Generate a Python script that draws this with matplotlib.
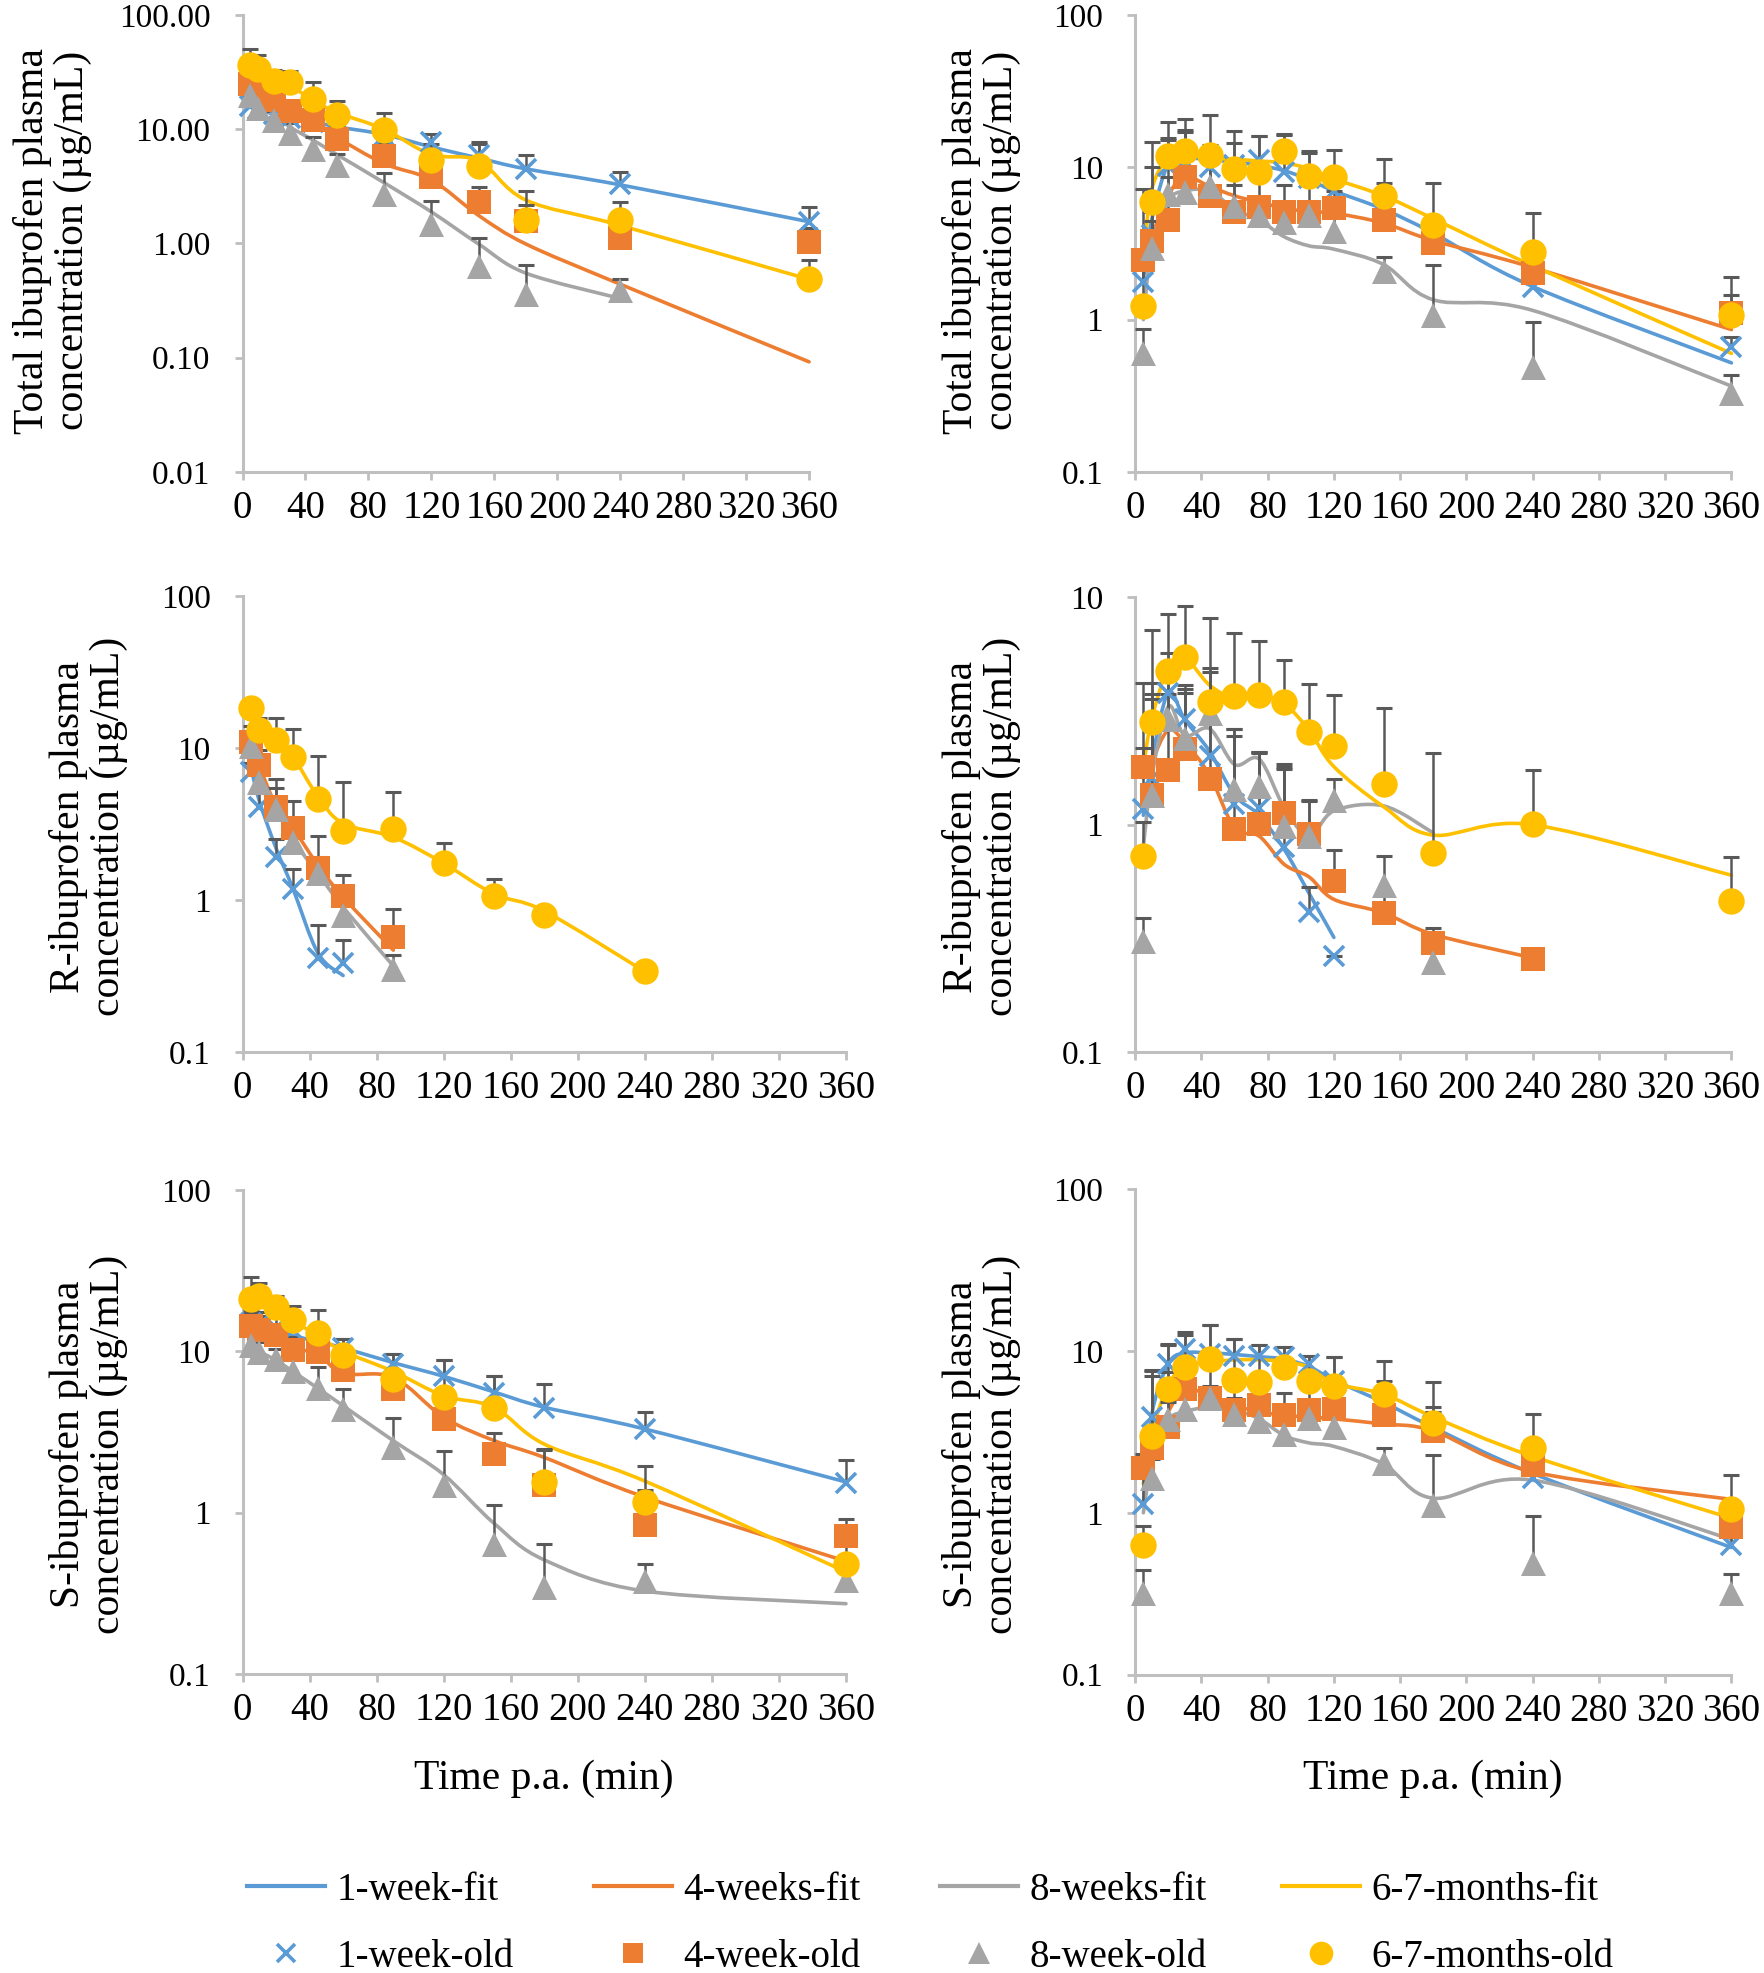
import numpy as np
import matplotlib
matplotlib.use("Agg")
import matplotlib.pyplot as plt
import matplotlib.ticker as mticker
from matplotlib.path import Path
from matplotlib.patches import PathPatch
from matplotlib.lines import Line2D

plt.rcParams["font.family"] = ["Liberation Serif", "DejaVu Serif"]

# ── sampling times (min) ─────────────────────────────────────────────────────
T1 = [5, 10, 20, 30, 45, 60, 90, 120, 150, 180, 240, 360]
T2 = [5, 10, 20, 30, 45, 60, 75, 90, 105, 120, 150, 180, 240, 360]

# ── total ibuprofen, left ────────────────────────────────────────────────────
tl_w1_obs = [16, 15, 13.5, 12.5, 11.5, 10.5, 8.8, 7.8, 6.0, 4.5, 3.3, 1.55]
tl_w1_sd  = [3, 3, 2.5, 2.5, 2, 2, 1.5, 1.3, 1.8, 1.5, 0.9, 0.55]
tl_w1_fit = [16.5, 15, 13.5, 12.5, 11.6, 10.5, 9.0, 7.0, 5.6, 4.5, 3.26, 1.55]
tl_w4_obs = [24.7, 21, 17.9, 14.4, 12, 8.2, 5.8, 3.8, 2.3, 1.58, 1.11, 1.02]
tl_w4_sd  = [10, 6, 4, 3.5, 3, 2.5, 2.0, 1.3, 0.8, 0.6, 0.4, 0.35]
tl_w4_fit = [25, 21, 17, 14.5, 12, 8.5, 5.0, 3.6, 1.76, 0.99, 0.44, 0.092]
tl_w8_obs = [20, 15.4, 12, 9.3, 6.7, 4.85, 2.7, 1.47, 0.64, 0.36, 0.39]
tl_w8_sd  = [5, 3, 2.5, 2, 1.8, 1.2, 1.4, 0.9, 0.47, 0.29, 0.1]
tl_w8_fit = [20, 16, 13.4, 10.5, 8.0, 6.0, 3.4, 1.89, 0.99, 0.55, 0.33]
tl_m6_obs = [36.8, 34, 26.6, 26, 18.5, 13.4, 9.9, 5.4, 4.8, 1.6, 1.6, 0.49]
tl_m6_sd  = [14, 11, 6.4, 6.5, 7.5, 4.2, 3.9, 2.1, 2.7, 1.3, 0.7, 0.22]
tl_m6_fit = [37, 34, 27, 24, 18, 14, 10, 6.0, 5.3, 2.4, 1.44, 0.485]

# ── total ibuprofen, right ───────────────────────────────────────────────────
tr_w1_obs = [1.77, 3.6, 10.2, 11, 10.1, 10.4, 11.2, 9.3, 8.5, 7.0, 5.9, 3.6, 1.63, 0.665]
tr_w1_sd  = [0.6, 1.5, 5, 6, 4, 4, 4.8, 7, 4, 2, 2, 1, 0.3, 0.1]
tr_w1_fit = [1.8, 4.5, 10.5, 11.5, 11.2, 10.8, 10.3, 9.5, 8.3, 7.0, 5.3, 3.7, 1.65, 0.52]
tr_w4_obs = [2.45, 3.3, 4.5, 8.7, 6.5, 5.1, 5.5, 5.1, 5.1, 5.4, 4.5, 3.2, 2.03, 1.1]
tr_w4_sd  = [4.8, 6.7, 11, 8.8, 5.7, 3.5, 3.5, 2.5, 2.5, 1.6, 2, 1.2, 0.8, 0.8]
tr_w4_fit = [2.4, 3.5, 6.5, 8.7, 7.5, 6.5, 5.9, 5.4, 5.1, 5.0, 4.3, 3.3, 2.2, 0.86]
tr_w8_obs = [0.6, 2.97, 6.7, 6.9, 7.5, 5.6, 4.85, 4.35, 4.85, 3.8, 2.08, 1.08, 0.49, 0.33]
tr_w8_sd  = [0.27, 1.5, 2, 2.5, 3, 2, 1.5, 1.0, 1.0, 1.0, 0.5, 1.22, 0.47, 0.1]
tr_w8_fit = [1.0, 3.0, 6.0, 7.0, 7.0, 5.3, 4.5, 3.5, 3.05, 2.9, 2.3, 1.35, 1.15, 0.366]
tr_m6_obs = [1.23, 5.9, 11.9, 12.8, 12.1, 9.8, 9.3, 12.7, 8.8, 8.6, 6.5, 4.2, 2.8, 1.08]
tr_m6_sd  = [1.0, 8.8, 8, 8, 10, 7.4, 6.7, 3.8, 3.9, 4.3, 4.9, 3.7, 2.2, 0.38]
tr_m6_fit = [2.5, 7.1, 11.6, 12.3, 11.6, 11.3, 11.0, 10.7, 9.8, 8.4, 6.5, 4.6, 2.26, 0.6]

# ── R-ibuprofen, left ────────────────────────────────────────────────────────
ml_w1_obs = [7.0, 4.1, 1.92, 1.18, 0.42, 0.386]
ml_w1_sd  = [1.0, 1.0, 0.62, 0.43, 0.27, 0.16]
ml_w1_fit = [7.5, 4.5, 2.2, 1.2, 0.45, 0.32]
ml_w4_obs = [10.9, 7.7, 4.1, 3.0, 1.63, 1.06, 0.575]
ml_w4_sd  = [3, 2, 2.2, 1.5, 1.0, 0.4, 0.3]
ml_w4_fit = [10.5, 7.6, 4.2, 3.0, 1.7, 1.05, 0.47]
ml_w8_obs = [10.3, 6.0, 4.0, 2.4, 1.5, 0.8, 0.356]
ml_w8_sd  = [2, 1.5, 1.5, 1.0, 0.42, 0.3, 0.08]
ml_w8_fit = [10, 6.5, 4.0, 2.5, 1.5, 0.9, 0.37]
ml_m6_obs = [18.3, 13.2, 11.3, 8.8, 4.6, 2.85, 2.93, 1.77, 1.06, 0.805, 0.341]
ml_m6_sd  = [2, 2.5, 4.4, 4.6, 4.3, 3.15, 2.2, 0.6, 0.32, 0.0, 0.0]
ml_m6_fit = [17.5, 13.5, 11, 8.8, 4.8, 3.2, 2.6, 1.75, 1.1, 0.85, 0.34]

# ── R-ibuprofen, right ───────────────────────────────────────────────────────
mr_w1_obs = [1.17, 1.6, 3.8, 2.9, 2.0, 1.23, 1.19, 0.8, 0.415, 0.264]
mr_w1_sd  = [1.0, 2.6, 1.9, 1.2, 2.9, 1.4, 0.9, 1.05, 0.12, 0.0]
mr_w1_fit = [1.1, 1.9, 3.8, 2.9, 2.1, 1.35, 1.1, 0.78, 0.5, 0.32]
mr_w4_obs = [1.79, 1.35, 1.74, 2.14, 1.58, 0.96, 1.01, 1.13, 0.906, 0.566, 0.41, 0.302, 0.257]
mr_w4_sd  = [2.4, 2.2, 2.0, 1.8, 1.2, 1.5, 1.05, 0.63, 0.36, 0.21, 0.1, 0.05, 0.0]
mr_w4_fit = [1.6, 1.9, 2.6, 2.3, 1.65, 0.97, 0.89, 0.67, 0.59, 0.47, 0.41, 0.33, 0.26]
mr_w8_obs = [0.31, 1.35, 2.9, 2.4, 3.1, 1.44, 1.48, 0.99, 0.89, 1.28, 0.546, 0.25]
mr_w8_sd  = [0.08, 2.4, 2.3, 1.4, 1.6, 1.2, 0.6, 0.8, 0.4, 0.3, 0.18, 0.05]
mr_w8_fit = [0.8, 1.6, 3.3, 2.46, 2.64, 1.84, 1.94, 1.19, 0.89, 1.15, 1.21, 0.92]
mr_m6_obs = [0.73, 2.84, 4.73, 5.43, 3.47, 3.67, 3.73, 3.47, 2.55, 2.22, 1.51, 0.748, 1.01, 0.46]
mr_m6_sd  = [0.3, 4.3, 3.7, 3.7, 4.6, 3.3, 2.7, 1.8, 1.6, 1.5, 1.74, 1.32, 0.73, 0.26]
mr_m6_fit = [1.8, 2.9, 4.9, 5.4, 4.1, 3.6, 3.7, 3.4, 2.6, 1.8, 1.2, 0.9, 1.0, 0.6]

# ── S-ibuprofen, left ────────────────────────────────────────────────────────
bl_w1_obs = [15, 14.5, 14, 13.5, 11.5, 10.5, 8.4, 7.0, 5.5, 4.44, 3.29, 1.53]
bl_w1_sd  = [3, 3, 3, 3, 2.5, 1.5, 1.2, 1.8, 1.5, 1.8, 0.9, 0.6]
bl_w1_fit = [15.1, 14.5, 13.5, 12.5, 11.5, 10.5, 8.5, 7.0, 5.6, 4.5, 3.3, 1.55]
bl_w4_obs = [14.3, 13.6, 12.6, 10.2, 9.9, 7.7, 5.8, 3.8, 2.3, 1.48, 0.834, 0.718]
bl_w4_sd  = [3, 3, 2, 2, 2, 1.5, 1.2, 1, 0.8, 1.0, 0.54, 0.2]
bl_w4_fit = [14, 13.5, 12.3, 10.5, 9.6, 7.3, 6.9, 3.9, 2.8, 2.2, 1.25, 0.5]
bl_w8_obs = [10.9, 9.9, 8.9, 7.6, 5.9, 4.4, 2.55, 1.48, 0.636, 0.348, 0.38, 0.385]
bl_w8_sd  = [2, 1.5, 1.5, 1.2, 2.1, 1.4, 1.3, 0.92, 0.48, 0.29, 0.1, 0.05]
bl_w8_fit = [11, 10, 8.8, 7.5, 5.9, 4.6, 2.79, 1.72, 0.86, 0.51, 0.327, 0.273]
bl_m6_obs = [21, 22, 18.7, 15.6, 13, 9.5, 6.7, 5.2, 4.44, 1.55, 1.16, 0.484]
bl_m6_sd  = [8, 4.5, 3.3, 3.4, 5.1, 2.4, 2.9, 3.6, 2.6, 0.88, 0.78, 0.15]
bl_m6_fit = [21, 21.5, 18.5, 15.5, 12.5, 10, 7.5, 5.3, 4.5, 2.66, 1.57, 0.43]

# ── S-ibuprofen, right ───────────────────────────────────────────────────────
br_w1_obs = [1.13, 3.9, 8.3, 10.2, 9.6, 9.3, 9.3, 9.1, 8.3, 6.5, 5.0, 3.5, 1.64, 0.63]
br_w1_sd  = [0.5, 3.7, 2.7, 2.8, 4.9, 2.6, 1.6, 1.4, 1.0, 2.6, 1.5, 1, 0.4, 0.1]
br_w1_fit = [1.1, 4.0, 8.3, 9.7, 9.7, 9.5, 9.2, 8.9, 8.0, 6.6, 4.8, 3.37, 1.75, 0.61]
br_w4_obs = [1.9, 2.5, 3.37, 5.8, 5.1, 4.3, 4.6, 4.0, 4.3, 4.4, 4.0, 3.2, 1.96, 0.82]
br_w4_sd  = [0.4, 4.5, 4.0, 3.5, 3.0, 2.0, 1.5, 1.5, 1.5, 1.5, 1.9, 1.0, 0.8, 0.2]
br_w4_fit = [1.8, 2.6, 4.2, 5.8, 5.3, 4.6, 4.2, 4.0, 3.9, 3.8, 3.53, 3.2, 1.79, 1.21]
br_w8_obs = [0.32, 1.64, 3.8, 4.4, 5.1, 4.08, 3.68, 3.07, 3.84, 3.4, 2.02, 1.11, 0.49, 0.32]
br_w8_sd  = [0.12, 0.5, 1.0, 1.0, 1.0, 1.0, 1.0, 0.8, 0.8, 0.8, 0.5, 1.17, 0.47, 0.1]
br_w8_fit = [1.0, 2.0, 3.7, 4.2, 4.5, 4.3, 3.8, 3.0, 2.7, 2.57, 2.0, 1.23, 1.59, 0.685]
br_m6_obs = [0.63, 2.98, 5.8, 8.0, 8.9, 6.6, 6.4, 8.0, 6.5, 6.1, 5.4, 3.6, 2.5, 1.06]
br_m6_sd  = [0.2, 4.5, 5, 4.5, 5.6, 5.3, 4.5, 2.5, 2.8, 3.0, 3.3, 2.8, 1.6, 0.66]
br_m6_fit = [1.5, 3.1, 6.1, 8.0, 8.5, 8.8, 8.8, 8.6, 7.9, 6.3, 5.4, 3.91, 2.23, 0.925]

FIT_LABELS = ["1-week-fit", "4-weeks-fit", "8-weeks-fit", "6-7-months-fit"]
OBS_LABELS = ["1-week-old", "4-week-old", "8-week-old", "6-7-months-old"]
XTICKS = list(range(0, 361, 40))

Y_LABELS = [
    "Total ibuprofen plasma\nconcentration (µg/mL)",
    "R-ibuprofen plasma\nconcentration (µg/mL)",
    "S-ibuprofen plasma\nconcentration (µg/mL)",
]
X_LABEL = "Time p.a. (min)"

# ── style ────────────────────────────────────────────────────────────────────
COLORS  = ["#5B9BD5", "#ED7D31", "#A5A5A5", "#FFC000"]
MARKERS = ["x", "s", "^", "o"]
MSIZES  = [15, 17, 18, 19]
ERR_COL = "#595959"
AX_COL  = "#BFBFBF"


def smooth_path(t, y):
    """Excel-style smoothed line: Catmull-Rom Beziers in (t, log10 y) space."""
    pts = np.column_stack([np.asarray(t, float), np.log10(np.asarray(y, float))])
    n = len(pts)
    verts, codes = [pts[0]], [Path.MOVETO]
    for i in range(n - 1):
        p0, p1 = pts[max(i - 1, 0)], pts[i]
        p2, p3 = pts[i + 1], pts[min(i + 2, n - 1)]
        verts += [p1 + (p2 - p0) / 6.0, p2 - (p3 - p1) / 6.0, p2]
        codes += [Path.CURVE4] * 3
    verts = np.array(verts)
    verts[:, 1] = 10 ** verts[:, 1]
    return Path(verts, codes)


def draw_panel(ax, times, groups, ylim, yticks, ytlabels):
    for k, (obs, sd, fit) in enumerate(groups):
        t = times[:len(fit)]
        ax.add_patch(PathPatch(smooth_path(t, fit), fill=False, edgecolor=COLORS[k],
                               lw=2.6, zorder=2, clip_on=False, capstyle="round"))
    for k, (obs, sd, fit) in enumerate(groups):
        t = np.array(times[:len(obs)], float)
        o = np.array(obs, float)
        top = o + np.array(sd, float)
        ax.vlines(t, o, top, color=ERR_COL, lw=1.8, zorder=3 + 0.1 * k, clip_on=False)
        ax.plot(t, top, ls="none", marker="_", ms=12, mew=2.2, color=ERR_COL,
                zorder=3 + 0.1 * k, clip_on=False)
        mew = 2.6 if MARKERS[k] == "x" else 0
        ax.plot(t, o, ls="none", marker=MARKERS[k], ms=MSIZES[k], color=COLORS[k],
                mec=COLORS[k], mew=mew, zorder=4 + 0.1 * k, clip_on=False)

    ax.set_yscale("log")
    ax.set_xlim(0, 360)
    ax.set_ylim(*ylim)
    ax.set_xticks(XTICKS)
    ax.yaxis.set_major_locator(mticker.FixedLocator(yticks))
    ax.yaxis.set_major_formatter(mticker.FixedFormatter(ytlabels))
    ax.yaxis.set_minor_locator(mticker.NullLocator())
    for side in ("top", "right"):
        ax.spines[side].set_visible(False)
    for side in ("left", "bottom"):
        ax.spines[side].set_color(AX_COL)
        ax.spines[side].set_linewidth(2.2)
    ax.tick_params(axis="x", labelsize=28, length=6, width=2, color=AX_COL, pad=7)
    ax.tick_params(axis="y", labelsize=24, length=6, width=2, color=AX_COL, pad=17)


fig = plt.figure(figsize=(17.65, 19.73), dpi=100)

rects = {
    "tl": [0.1374, 0.7608, 0.4584 - 0.1374, 0.9924 - 0.7608],
    "tr": [0.6431, 0.7608, 0.9810 - 0.6431, 0.9924 - 0.7608],
    "ml": [0.1374, 0.4666, 0.4793 - 0.1374, 0.6979 - 0.4666],
    "mr": [0.6431, 0.4666, 0.9810 - 0.6431, 0.6974 - 0.4666],
    "bl": [0.1374, 0.1515, 0.4793 - 0.1374, 0.3969 - 0.1515],
    "br": [0.6431, 0.1512, 0.9810 - 0.6431, 0.3974 - 0.1512],
}

axes = {k: fig.add_axes(r) for k, r in rects.items()}

draw_panel(axes["tl"], T1,
           [(tl_w1_obs, tl_w1_sd, tl_w1_fit), (tl_w4_obs, tl_w4_sd, tl_w4_fit),
            (tl_w8_obs, tl_w8_sd, tl_w8_fit), (tl_m6_obs, tl_m6_sd, tl_m6_fit)],
           (0.01, 100), [0.01, 0.1, 1, 10, 100], ["0.01", "0.10", "1.00", "10.00", "100.00"])
draw_panel(axes["tr"], T2,
           [(tr_w1_obs, tr_w1_sd, tr_w1_fit), (tr_w4_obs, tr_w4_sd, tr_w4_fit),
            (tr_w8_obs, tr_w8_sd, tr_w8_fit), (tr_m6_obs, tr_m6_sd, tr_m6_fit)],
           (0.1, 100), [0.1, 1, 10, 100], ["0.1", "1", "10", "100"])
draw_panel(axes["ml"], T1,
           [(ml_w1_obs, ml_w1_sd, ml_w1_fit), (ml_w4_obs, ml_w4_sd, ml_w4_fit),
            (ml_w8_obs, ml_w8_sd, ml_w8_fit), (ml_m6_obs, ml_m6_sd, ml_m6_fit)],
           (0.1, 100), [0.1, 1, 10, 100], ["0.1", "1", "10", "100"])
draw_panel(axes["mr"], T2,
           [(mr_w1_obs, mr_w1_sd, mr_w1_fit), (mr_w4_obs, mr_w4_sd, mr_w4_fit),
            (mr_w8_obs, mr_w8_sd, mr_w8_fit), (mr_m6_obs, mr_m6_sd, mr_m6_fit)],
           (0.1, 10), [0.1, 1, 10], ["0.1", "1", "10"])
draw_panel(axes["bl"], T1,
           [(bl_w1_obs, bl_w1_sd, bl_w1_fit), (bl_w4_obs, bl_w4_sd, bl_w4_fit),
            (bl_w8_obs, bl_w8_sd, bl_w8_fit), (bl_m6_obs, bl_m6_sd, bl_m6_fit)],
           (0.1, 100), [0.1, 1, 10, 100], ["0.1", "1", "10", "100"])
draw_panel(axes["br"], T2,
           [(br_w1_obs, br_w1_sd, br_w1_fit), (br_w4_obs, br_w4_sd, br_w4_fit),
            (br_w8_obs, br_w8_sd, br_w8_fit), (br_m6_obs, br_m6_sd, br_m6_fit)],
           (0.1, 100), [0.1, 1, 10, 100], ["0.1", "1", "10", "100"])

# y labels (two lines, rotated)
ylab_pos = [(0.030, 0.878, 0), (0.556, 0.878, 0),
            (0.0504, 0.581, 1), (0.556, 0.581, 1),
            (0.0504, 0.268, 2), (0.556, 0.268, 2)]
for x, y, i in ylab_pos:
    fig.text(x, y, Y_LABELS[i], rotation=90, ha="center", va="center",
             fontsize=30, linespacing=1.05, multialignment="center")

fig.text(0.308, 0.0983, X_LABEL, ha="center", va="center", fontsize=30)
fig.text(0.812, 0.0983, X_LABEL, ha="center", va="center", fontsize=30)

# legend: four columns, fit line on top row, markers below
col_x = [0.1400, 0.3365, 0.5326, 0.7263]
for k in range(4):
    h_fit = Line2D([], [], color=COLORS[k], lw=3)
    mew = 2.6 if MARKERS[k] == "x" else 0
    h_obs = Line2D([], [], ls="none", marker=MARKERS[k], ms=MSIZES[k] - 2,
                   color=COLORS[k], mec=COLORS[k], mew=mew)
    fig.legend([h_fit, h_obs], [FIT_LABELS[k], OBS_LABELS[k]],
               loc="center left", bbox_to_anchor=(col_x[k], 0.0250),
               frameon=False, fontsize=28, handlelength=2.0, handletextpad=0.3,
               labelspacing=0.78, borderpad=0, borderaxespad=0)

fig.savefig("out.png", dpi=100)
